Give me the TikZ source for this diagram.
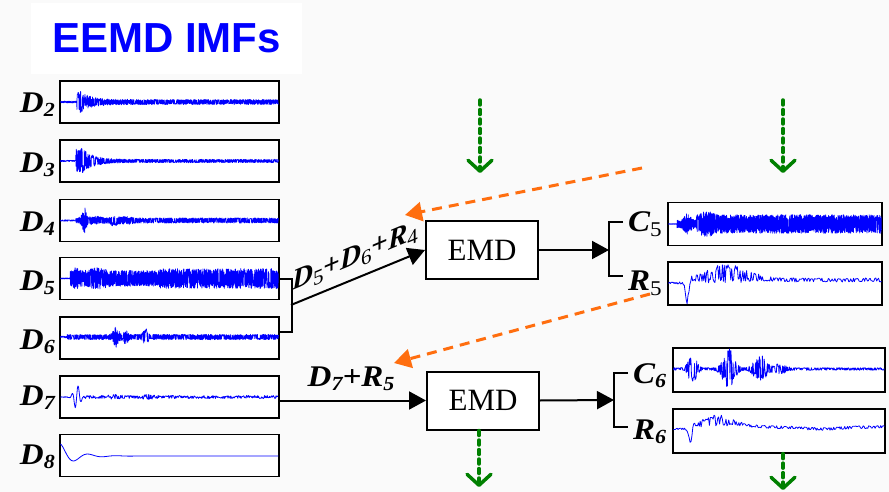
\documentclass[tikz,border=0pt]{standalone}
\usepackage{fontspec}
\setmainfont{Liberation Serif}
\newfontfamily\titlefont{Liberation Sans}
\newfontfamily\lblfont[FakeStretch=1.1]{Liberation Serif}
\usetikzlibrary{arrows.meta,calc}
\definecolor{bgc}{RGB}{250,250,250}
\definecolor{sigblue}{RGB}{0,0,255}
\definecolor{dgreen}{RGB}{0,128,0}
\definecolor{dorange}{RGB}{255,110,15}
\newcommand\sbi[1]{\raisebox{-4pt}{\fontsize{20}{20}\selectfont\bfseries\itshape #1}}
\newcommand\sru[1]{\raisebox{-5pt}{\fontsize{21}{21}\selectfont\mdseries\upshape #1}}
\begin{document}
\begin{tikzpicture}[x=1pt,y=-1pt,
  declare function={g(\t,\m,\s)=exp(-((\t-\m)/\s)*((\t-\m)/\s));
                    osc(\e)=\e*(2*(rnd>0.5)-1)*(0.35+0.65*rnd);},
  sigbox/.style={draw=black,line width=1.3pt,fill=white,minimum width=219pt,minimum height=42pt,inner sep=0pt},
  sigboxr/.style={sigbox,minimum width=214pt,minimum height=43pt},
  sigboxs/.style={sigbox,minimum width=212pt,minimum height=44pt},
  emdbox/.style={draw=black,line width=2pt,fill=white,minimum width=112pt,minimum height=58pt,inner sep=0pt,font=\fontsize{31}{31}\selectfont},
  lbl/.style={inner sep=0pt,font=\lblfont\fontsize{30}{30}\selectfont\bfseries\itshape},
  wav/.style={sigblue,line width=0.7pt,line join=round},
  wavt/.style={sigblue,line width=0.8pt,line join=round},
  conn/.style={line width=2pt,-{Triangle[length=17pt,width=18pt]}},
  brk/.style={line width=2pt},
  garr/.style={dgreen,line width=3.5pt,dash pattern=on 5pt off 4.5pt,line cap=round,-{Straight Barb[length=11pt,width=24pt,round]}},
  oarr/.style={dorange,line width=3pt,dash pattern=on 10pt off 7pt,-{Triangle[length=17pt,width=19pt]}},
]
\useasboundingbox (0,0) rectangle (889,492);
\fill[bgc] (0,0) rectangle (889,492);

% title
\node[fill=white,minimum width=271pt,minimum height=71pt,inner sep=0pt,
      font=\titlefont\bfseries\fontsize{42}{42}\selectfont,text=sigblue] (title) at (166.5,38.5) {EEMD IMFs};

% left signal boxes
\node[sigbox] (d2) at (169.5,102) {};
\node[sigbox] (d3) at (169.5,161) {};
\node[sigbox] (d4) at (169.5,220.5) {};
\node[sigbox] (d5) at (169.5,278.5) {};
\node[sigbox] (d6) at (169.5,338) {};
\node[sigbox] (d7) at (169.5,397) {};
\node[sigbox] (d8) at (169.5,455.5) {};

% right signal boxes
\node[sigboxr] (c5) at (775,224) {};
\node[sigboxr] (r5) at (775,283.5) {};
\node[sigboxs] (c6) at (779,370) {};
\node[sigboxs] (r6) at (779,431) {};

% waveforms
\pgfmathsetseed{11}
\draw[wav] plot[domain=0:1,samples=1000,variable=\x] ({60.5+218*\x},{102+osc(1.0+(\x>0.075)*(1.6+9*exp(-max(0,\x-0.085)/0.05)))});
\pgfmathsetseed{23}
\draw[wav] plot[domain=0:1,samples=1000,variable=\x] ({60.5+218*\x},{161+osc(0.7+(\x>0.07)*(1.0+11*exp(-max(0,\x-0.1)/0.05)))});
\pgfmathsetseed{37}
\draw[wav] plot[domain=0:1,samples=1000,variable=\x] ({60.5+218*\x},{220.5+osc(0.7+(\x>0.07)*2.0+11*g(\x,0.108,0.012)+3*g(\x,0.245,0.02)+2*g(\x,0.16,0.03)+1.5*g(\x,0.3,0.03))});
\pgfmathsetseed{41}
\draw[wav] plot[domain=0:1,samples=1300,variable=\x] ({60.5+218*\x},{278.5+osc(0.5+(\x>0.045)*(7.5+3*g(\x,0.07,0.015)+3*g(\x,0.17,0.04)+2*(\x>0.45)))});
\pgfmathsetseed{53}
\draw[wav] plot[domain=0:1,samples=1000,variable=\x] ({60.5+218*\x},{337+osc(0.9+(\x>0.03)*(1.8+8*g(\x,0.255,0.015)+5*g(\x,0.3,0.012)+7*g(\x,0.39,0.012)))});
\pgfmathsetseed{67}
\draw[wavt] plot[domain=0:1,samples=400,variable=\x] ({60.5+218*\x},{397+12*g(\x,0.075,0.02)*sin(360*(\x-0.06)/0.028)+rand*(0.4+1.1*(\x>0.1)+1.5*g(\x,0.25,0.03)+1.2*g(\x,0.4,0.03))});
\draw[wavt] plot[domain=0:1,samples=300,variable=\x] ({60.5+218*\x},{456-12*exp(-\x/0.07)*cos(2770*\x)});

\pgfmathsetseed{71}
\draw[wav] plot[domain=0:1,samples=1400,variable=\x] ({668.5+213*\x},{224+osc(0.4+(\x>0.04)*(3.5+5.5*(\x>0.13)+7*g(\x,0.09,0.02)+4*g(\x,0.18,0.03)))});
\pgfmathsetseed{83}
\draw[wavt] plot[domain=0:1,samples=230,variable=\x] ({668.5+213*\x},{283+(\x>0.09)*(-3-6*g(\x,0.28,0.15))+20*g(\x,0.088,0.01)+osc(0.8+8*g(\x,0.27,0.12)+1.2*(\x>0.09))});
\pgfmathsetseed{97}
\draw[wavt] plot[domain=0:1,samples=480,variable=\x] ({673.5+211*\x},{369+osc(1.3+13*g(\x,0.09,0.025)+19*g(\x,0.262,0.035)+13*g(\x,0.41,0.035)+4*g(\x,0.5,0.04))});
\pgfmathsetseed{101}
\draw[wavt] plot[domain=0:1,samples=230,variable=\x] ({673.5+211*\x},{429+(\x>0.09)*(-2-6*g(\x,0.22,0.12))+2*g(\x,0.7,0.12)+13*g(\x,0.08,0.01)+osc(0.8+5*g(\x,0.2,0.08)+0.6*(\x>0.09))});

% left labels
\node[lbl,anchor=base east] (ld2) at (55,113) {D\sbi{2}};
\node[lbl,anchor=base east] (ld3) at (55,172) {D\sbi{3}};
\node[lbl,anchor=base east] (ld4) at (55,231) {D\sbi{4}};
\node[lbl,anchor=base east] (ld5) at (55,290) {D\sbi{5}};
\node[lbl,anchor=base east] (ld6) at (55,349) {D\sbi{6}};
\node[lbl,anchor=base east] (ld7) at (55,405) {D\sbi{7}};
\node[lbl,anchor=base east] (ld8) at (55,464) {D\sbi{8}};

% right labels
\node[lbl,anchor=base west] (lc5) at (628,231) {C\sru{5}};
\node[lbl,anchor=base west] (lr5) at (628,290) {R\sru{5}};
\node[lbl,anchor=base west] (lc6) at (633,383) {C\sbi{6}};
\node[lbl,anchor=base west] (lr6) at (633,439) {R\sbi{6}};

% EMD boxes
\node[emdbox] (emd1) at (482,250) {EMD};
\node[emdbox] (emd2) at (483,400.5) {EMD};

% bracket D5/D6 and arrow to EMD1
\draw[brk] (d5.east) -- ++(12,0) |- ($(d6.east)+(0,-6)$);
\coordinate (bk1) at (291,305);
\draw[conn] (bk1) -- (emd1.west);
\node[inner sep=0pt,font=\fontsize{29}{29}\selectfont\bfseries\itshape,yslant=0.42] (l1) at (355,257) {D\sru{5}+D\sru{6}+R\sru{4}};

% D7 arrow to EMD2
\draw[conn] (d7.east |- emd2.west) -- (emd2.west);
\node[lbl,anchor=base] (l2) at (351,386) {D\sbi{7}+R\sbi{5}};

% right brackets
\coordinate (rb1) at (609,250);
\coordinate (rb1t) at (623,222);
\coordinate (rb1b) at (623,276);
\draw[conn] (emd1.east) -- (rb1);
\draw[brk] (rb1t) -| (rb1) |- (rb1b);
\coordinate (rb2) at (614,400);
\coordinate (rb2t) at (628,373);
\coordinate (rb2b) at (628,427);
\draw[conn] (emd2.east) -- (rb2);
\draw[brk] (rb2t) -| (rb2) |- (rb2b);

% green dashed arrows
\coordinate (g1s) at (480,100);
\coordinate (g1e) at (480,173);
\coordinate (g2s) at (783,100);
\coordinate (g2e) at (783,173);
\coordinate (g3e) at (479,487);
\coordinate (g4e) at (783,490);
\draw[garr] (g1s) -- (g1e);
\draw[garr] (g2s) -- (g2e);
\draw[garr] (g3e |- emd2.south) -- (g3e);
\draw[garr] (g4e |- r6.south) -- (g4e);

% orange dashed arrows
\coordinate (o1s) at (642,168);
\coordinate (o1e) at (405,215);
\coordinate (o2s) at (650,294);
\coordinate (o2e) at (394,363);
\draw[oarr] (o1s) -- (o1e);
\draw[oarr] (o2s) -- (o2e);
\end{tikzpicture}
\end{document}
